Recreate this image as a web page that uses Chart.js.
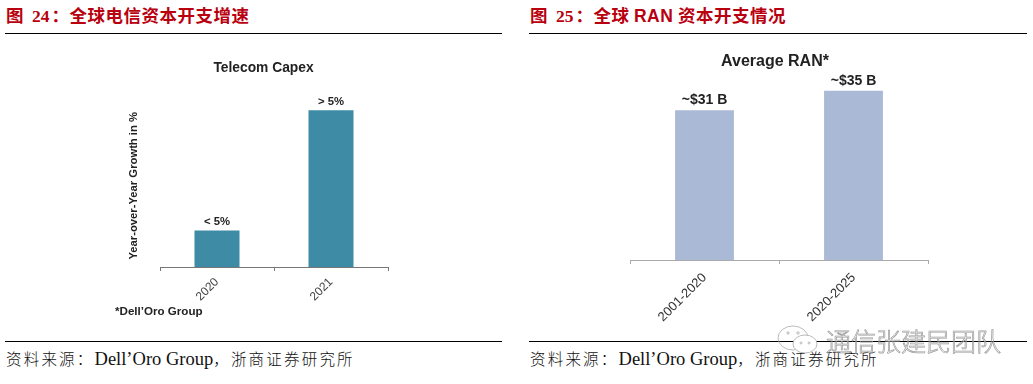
<!DOCTYPE html>
<html>
<head>
<meta charset="utf-8">
<script src="https://cdn.jsdelivr.net/npm/chart.js@4"></script>
<style>
    html, body { margin: 0; padding: 0; background: #fff; }
    body { position: relative; width: 1033px; height: 384px; overflow: hidden; }
    .box { position: absolute; }
    .heading { position: absolute; top: 5px; font: 700 17.5px "Noto Sans CJK SC", sans-serif; letter-spacing: 0.5px; color: #b8000f; white-space: nowrap; line-height: 20px; }
    .heading b { font-family: "Liberation Serif", serif; margin: 0 2px 0 8px; letter-spacing: 0; }
    .latin { font-family: "Liberation Sans", sans-serif; }
    .rule { position: absolute; height: 1px; background: #000; }
    .source { position: absolute; top: 348px; font: 300 15.5px "Noto Sans CJK SC", sans-serif; letter-spacing: 2.2px; color: #111; white-space: nowrap; line-height: 20px; }
    .source span { font-family: "Liberation Serif", serif; font-size: 18.5px; letter-spacing: 0; font-weight: 400; }
    .note { position: absolute; left: 115px; top: 304px; font: 700 11.6px "Liberation Sans", sans-serif; color: #222; }
    .mark { position: absolute; left: 826px; top: 322px; font: 300 25px "Noto Sans CJK SC", sans-serif; color: transparent; -webkit-text-stroke: 0.7px #999; white-space: nowrap; }
    .mark-icon { position: absolute; left: 776px; top: 325px; }
</style>
</head>
<body>
<div class="heading" style="left:6px">图<b>24</b>：全球电信资本开支增速</div>
<div class="heading" style="left:530px">图<b>25</b>：全球 <span class="latin">RAN</span> 资本开支情况</div>
<div class="rule" style="left:5px;width:497px;top:33px"></div>
<div class="rule" style="left:529px;width:498px;top:33px"></div>

<div class="box" style="left:100px;top:50px;width:326px;height:270px"><canvas id="capexChart"></canvas></div>
<div class="box" style="left:600px;top:40px;width:350px;height:300px"><canvas id="ranChart"></canvas></div>

<div class="note">*Dell’Oro Group</div>
<div class="rule" style="left:5px;width:497px;top:341px"></div>
<div class="rule" style="left:529px;width:498px;top:341px"></div>
<div class="source" style="left:6px">资料来源：<span>Dell’Oro Group</span>，浙商证券研究所</div>
<div class="source" style="left:530px">资料来源：<span>Dell’Oro Group</span>，浙商证券研究所</div>

<svg class="mark-icon" width="48" height="30" fill="none" stroke="#aaa" stroke-width="0.8">
    <ellipse cx="17" cy="13" rx="15" ry="12"></ellipse>
    <ellipse cx="29" cy="19" rx="12" ry="9" fill="#fff"></ellipse>
    <circle cx="12" cy="8" r="1.2"></circle>
    <circle cx="22" cy="8" r="1.2"></circle>
    <circle cx="25" cy="18" r="1"></circle>
    <circle cx="33" cy="18" r="1"></circle>
</svg>
<div class="mark">通信张建民团队</div>

<script>
// Left chart: bar heights, the source gives no scale
const capexYears = ['2020', '2021'];
const capexGrowth = [1.3, 5.6];
const capexLabels = ['< 5%', '> 5%'];

// Right chart
const ranPeriods = ['2001-2020', '2020-2025'];
const ranValues = [31, 35];
const ranLabels = ['~$31 B', '~$35 B'];

// Draws the text above each bar
const barTextPlugin = {
    id: 'barText',
    afterDatasetsDraw(chart, args, opts) {
        const ctx = chart.ctx;
        ctx.save();
        ctx.font = opts.font;
        ctx.fillStyle = '#222';
        ctx.textAlign = 'center';
        ctx.textBaseline = 'bottom';
        chart.getDatasetMeta(0).data.forEach((bar, i) => {
            ctx.fillText(opts.labels[i], bar.x, bar.y - opts.gap);
        });
        ctx.restore();
    }
};

function makeChart(id, cfg) {
    return new Chart(document.getElementById(id), {
        type: 'bar',
        plugins: [barTextPlugin],
        data: {
            labels: cfg.categories,
            datasets: [{
                data: cfg.values,
                backgroundColor: cfg.color,
                barPercentage: 0.395,
                categoryPercentage: 1
            }]
        },
        options: {
            responsive: true,
            maintainAspectRatio: false,
            animation: false,
            layout: { padding: cfg.padding },
            plugins: {
                legend: { display: false },
                tooltip: { enabled: false },
                title: {
                    display: true,
                    text: cfg.title,
                    color: '#222',
                    font: { family: 'Liberation Sans', weight: 'bold', size: cfg.titleSize },
                    padding: cfg.titlePadding
                },
                barText: { labels: cfg.barLabels, font: cfg.barFont, gap: cfg.barGap }
            },
            scales: {
                x: {
                    afterFit: (scale) => { scale.height = cfg.xHeight; },
                    border: { color: cfg.axisColor },
                    grid: { drawOnChartArea: false, tickLength: 4, color: cfg.axisColor, offset: true },
                    ticks: {
                        minRotation: 45,
                        maxRotation: 45,
                        padding: cfg.tickPadding,
                        color: cfg.tickColor,
                        font: { family: 'Liberation Sans', size: cfg.tickSize }
                    }
                },
                y: {
                    min: 0,
                    max: cfg.max,
                    afterFit: (scale) => { scale.width = cfg.yWidth; },
                    border: { display: false },
                    grid: { display: false },
                    ticks: { display: false },
                    title: {
                        display: !!cfg.yTitle,
                        text: cfg.yTitle,
                        color: '#222',
                        padding: 0,
                        font: { family: 'Liberation Sans', weight: 'bold', size: 11.25 }
                    }
                },
                // empty right axis, only so the chart title sits off the plot centre like the source
                yGap: {
                    position: 'right',
                    afterFit: (scale) => { scale.width = cfg.rightGap; },
                    border: { display: false },
                    grid: { display: false },
                    ticks: { display: false }
                }
            }
        }
    });
}

makeChart('capexChart', {
    categories: capexYears,
    values: capexGrowth,
    barLabels: capexLabels,
    color: '#3e8ba5',
    axisColor: '#777',
    tickColor: '#444',
    title: 'Telecom Capex',
    titleSize: 13.8,
    titlePadding: { top: 10, bottom: 28 },
    padding: { left: 27, right: 26, top: 0, bottom: 0 },
    xHeight: 53,
    yWidth: 33,
    rightGap: 12,
    yTitle: 'Year-over-Year Growth in %',
    max: 5.8,
    tickSize: 12,
    tickPadding: 4,
    barFont: 'bold 11.3px "Liberation Sans"',
    barGap: 3
});

makeChart('ranChart', {
    categories: ranPeriods,
    values: ranValues,
    barLabels: ranLabels,
    color: '#aab9d6',
    axisColor: '#aaa',
    tickColor: '#333',
    title: 'Average RAN*',
    titleSize: 16,
    titlePadding: { top: 11.5, bottom: 15.3 },
    padding: { left: 22, right: 22, top: 0, bottom: 0 },
    xHeight: 80,
    yWidth: 8,
    rightGap: 0,
    yTitle: '',
    max: 36,
    tickSize: 13,
    tickPadding: 6,
    barFont: 'bold 14px "Liberation Sans"',
    barGap: 3
});
</script>
</body>
</html>
